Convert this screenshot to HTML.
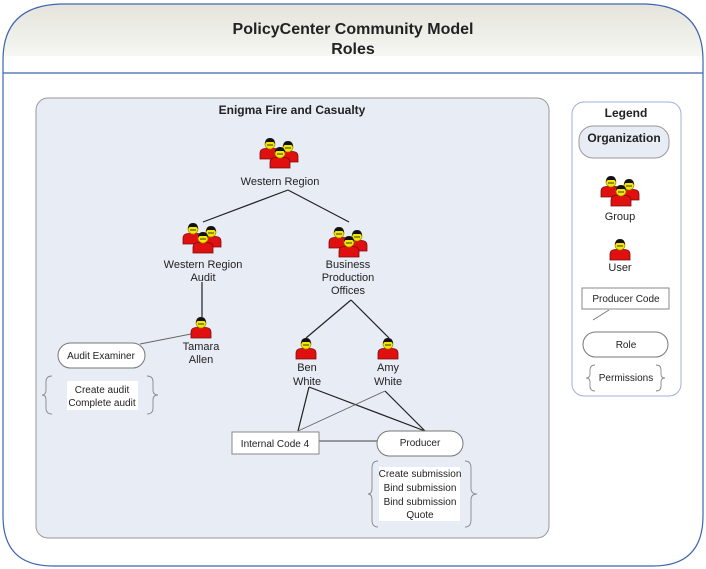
<!DOCTYPE html>
<html><head><meta charset="utf-8"><style>
html,body{margin:0;padding:0;background:#fff}
svg{display:block}
text{font-family:"Liberation Sans",Arial,sans-serif;fill:#222}
</style></head><body>
<svg width="706" height="569" viewBox="0 0 706 569" xmlns="http://www.w3.org/2000/svg">
<defs>
<linearGradient id="hg" x1="0" y1="0" x2="0" y2="1">
<stop offset="0" stop-color="#e4e4dc"/><stop offset="0.75" stop-color="#f6f6f2"/><stop offset="0.76" stop-color="#ffffff"/><stop offset="1" stop-color="#ffffff"/>
</linearGradient>
<g id="u">
<path d="M-10,15 L-10,9 Q-10,5 -5,4.5 L5,4.5 Q10,5 10,9 L10,15 Z" fill="#e01010" stroke="#7a0a0a" stroke-width="0.8"/>
<circle cx="0" cy="0" r="5" fill="#f4e800" stroke="#9a8c00" stroke-width="0.7"/>
<path d="M-5,0 Q-5,-6 0,-6 Q5,-6 5,0 L3.5,-2 L-3.5,-2 Z" fill="#111"/>
<rect x="-3" y="0" width="6" height="2" fill="#333" opacity="0.5"/>
</g>
<g id="grp">
<use href="#u" x="-10" y="-9"/>
<use href="#u" x="8" y="-6"/>
<use href="#u" x="0" y="0"/>
</g>
</defs>
<!-- outer frame -->
<path d="M3,73 L3,60 Q3,6 60,4 L646,4 Q703,6 703,60 L703,73 Z" fill="url(#hg)"/>
<path d="M3,73 L3,516 Q3,566 53,566 L653,566 Q703,566 703,516 L703,73" fill="#fff"/>
<path d="M3,516 L3,60 Q3,6 60,4 L646,4 Q703,6 703,60 L703,516 Q703,566 653,566 L53,566 Q3,566 3,516 Z" fill="none" stroke="#3e64b0" stroke-width="1.2"/>
<line x1="3" y1="73" x2="703" y2="73" stroke="#3e64b0" stroke-width="1.2"/>
<text x="353" y="34" text-anchor="middle" font-size="16" font-weight="bold">PolicyCenter Community Model</text>
<text x="353" y="54" text-anchor="middle" font-size="16" font-weight="bold">Roles</text>

<!-- org box -->
<rect x="36" y="98" width="513" height="440" rx="12" fill="#e8ecf5" stroke="#999" stroke-width="1"/>
<text x="292" y="114" text-anchor="middle" font-size="12" font-weight="bold">Enigma Fire and Casualty</text>

<g stroke="#222" stroke-width="1.2" fill="none">
<line x1="288" y1="190" x2="203" y2="222"/>
<line x1="288" y1="190" x2="349" y2="222"/>
<line x1="202" y1="282" x2="202" y2="317"/>
<line x1="351" y1="300" x2="306" y2="338"/>
<line x1="351" y1="300" x2="389" y2="338"/>
<line x1="309" y1="387" x2="298" y2="431"/>
<line x1="309" y1="387" x2="425" y2="431"/>
<line x1="385" y1="391" x2="425" y2="431"/>
</g>
<g stroke="#666" stroke-width="0.9" fill="none">
<line x1="191" y1="334" x2="140" y2="344"/>
<line x1="385" y1="391" x2="298" y2="431"/>
<line x1="319" y1="441" x2="377" y2="441" stroke-width="1.3"/>
</g>

<use href="#grp" x="280" y="153"/>
<text x="280" y="185" text-anchor="middle" font-size="11">Western Region</text>
<use href="#grp" x="203" y="238"/>
<text x="203" y="268" text-anchor="middle" font-size="11">Western Region</text>
<text x="203" y="281" text-anchor="middle" font-size="11">Audit</text>
<use href="#grp" x="349" y="242"/>
<text x="348" y="268" text-anchor="middle" font-size="11">Business</text>
<text x="348" y="281" text-anchor="middle" font-size="11">Production</text>
<text x="348" y="294" text-anchor="middle" font-size="11">Offices</text>

<use href="#u" x="201" y="323"/>
<text x="201" y="350" text-anchor="middle" font-size="11">Tamara</text>
<text x="201" y="363" text-anchor="middle" font-size="11">Allen</text>
<use href="#u" x="306" y="344"/>
<text x="307" y="371" text-anchor="middle" font-size="11">Ben</text>
<text x="307" y="385" text-anchor="middle" font-size="11">White</text>
<use href="#u" x="388" y="344"/>
<text x="388" y="371" text-anchor="middle" font-size="11">Amy</text>
<text x="388" y="385" text-anchor="middle" font-size="11">White</text>

<!-- audit examiner -->
<rect x="58" y="343" width="87" height="25" rx="12.5" fill="#fff" stroke="#777"/>
<text x="101" y="359" text-anchor="middle" font-size="10">Audit Examiner</text>
<rect x="67" y="381" width="71" height="29" fill="#fff"/>
<text x="102" y="393" text-anchor="middle" font-size="10">Create audit</text>
<text x="102" y="406" text-anchor="middle" font-size="10">Complete audit</text>
<g stroke="#888" fill="none" stroke-width="0.9">
<path d="M52,376 Q46,376 46,382 L46,390 Q46,395 42,395 Q46,395 46,400 L46,408 Q46,414 52,414"/>
<path d="M147,376 Q153,376 153,382 L153,390 Q153,395 158,395 Q153,395 153,400 L153,408 Q153,414 147,414"/>
</g>

<!-- internal code / producer -->
<rect x="232" y="432" width="87" height="22" fill="#fff" stroke="#888"/>
<text x="275" y="447" text-anchor="middle" font-size="10">Internal Code 4</text>
<rect x="377" y="431" width="86" height="25" rx="12.5" fill="#fff" stroke="#777"/>
<text x="420" y="446" text-anchor="middle" font-size="10">Producer</text>
<rect x="379" y="467" width="81" height="54" fill="#fff"/>
<text x="420" y="477" text-anchor="middle" font-size="10">Create submission</text>
<text x="420" y="491" text-anchor="middle" font-size="10">Bind submission</text>
<text x="420" y="505" text-anchor="middle" font-size="10">Bind submission</text>
<text x="420" y="518" text-anchor="middle" font-size="10">Quote</text>
<g stroke="#888" fill="none" stroke-width="0.9">
<path d="M378,461 Q372,461 372,468 L372,488 Q372,494 368,494 Q372,494 372,500 L372,520 Q372,527 378,527"/>
<path d="M465,461 Q471,461 471,468 L471,488 Q471,494 477,494 Q471,494 471,500 L471,520 Q471,527 465,527"/>
</g>

<!-- legend -->
<rect x="572" y="102" width="109" height="294" rx="12" fill="#fff" stroke="#9fb0d8"/>
<text x="626" y="117" text-anchor="middle" font-size="12" font-weight="bold">Legend</text>
<rect x="579" y="126" width="90" height="32" rx="14" fill="#e8ecf5" stroke="#999"/>
<text x="624" y="142" text-anchor="middle" font-size="12" font-weight="bold">Organization</text>
<use href="#grp" x="621" y="191"/>
<text x="620" y="220" text-anchor="middle" font-size="11">Group</text>
<use href="#u" x="620" y="245"/>
<text x="620" y="271" text-anchor="middle" font-size="11">User</text>
<rect x="582" y="288" width="87" height="21" fill="#fff" stroke="#888"/>
<text x="626" y="302" text-anchor="middle" font-size="10">Producer Code</text>
<line x1="609" y1="310" x2="593" y2="320" stroke="#777" stroke-width="0.9"/>
<rect x="583" y="332" width="85" height="25" rx="12.5" fill="#fff" stroke="#777"/>
<text x="626" y="348" text-anchor="middle" font-size="10">Role</text>
<text x="626" y="381" text-anchor="middle" font-size="10">Permissions</text>
<g stroke="#888" fill="none" stroke-width="0.9">
<path d="M595,365 Q590,365 590,370 L590,374 Q590,378 586,378 Q590,378 590,382 L590,386 Q590,391 595,391"/>
<path d="M656,365 Q661,365 661,370 L661,374 Q661,378 665,378 Q661,378 661,382 L661,386 Q661,391 656,391"/>
</g>
</svg>
</body></html>
